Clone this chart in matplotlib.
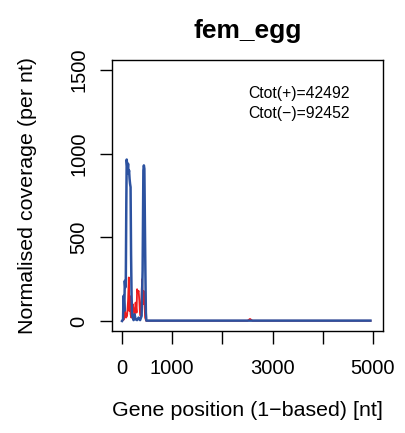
import matplotlib
matplotlib.use('Agg')
import matplotlib.pyplot as plt

plt.rcParams['font.family'] = ['Liberation Sans', 'DejaVu Sans']

title = 'fem_egg'
ctot_plus = 42492
ctot_minus = 92452

# coverage of the minus strand (blue) and plus strand (red)
minus_pos = [0, 20, 30, 45, 55, 65, 75, 85, 93, 100, 110, 120, 130, 140, 150, 160, 170,
             180, 190, 200, 215, 230, 250, 270, 300, 330, 360, 390, 410, 425, 435, 445,
             455, 465, 475, 485, 1000, 2000, 3000, 4000, 4950]
minus_cov = [0, 10, 150, 60, 240, 200, 240, 700, 965, 940, 900, 940, 880, 900, 850, 820, 800,
             400, 150, 30, 20, 5, 40, 10, 5, 20, 5, 30, 300, 900, 930, 910,
             600, 300, 50, 2, 2, 2, 2, 2, 2]

plus_pos = [0, 40, 60, 80, 100, 120, 135, 145, 155, 170, 185, 200, 215, 230, 250, 270, 290,
            300, 315, 330, 345, 355, 370, 385, 400, 415, 430, 445, 460, 480, 1500, 2500,
            2550, 2600, 3500, 4950]
plus_cov = [0, 10, 60, 20, 30, 120, 260, 60, 150, 40, 20, 80, 100, 70, 30, 110, 50,
            190, 170, 180, 120, 60, 30, 120, 250, 100, 180, 120, 20, 1, 1, 1,
            12, 1, 1, 1]

x_ticks = [0, 1000, 2000, 3000, 4000, 5000]
x_labels = ['0', '1000', '', '3000', '', '5000']
y_ticks = [0, 500, 1000, 1500]

fig = plt.figure(figsize=(4.06, 4.33), dpi=100)
ax = fig.add_axes([112 / 406, 1 - 331 / 433, 271 / 406, 271 / 433])

ax.plot(plus_pos, plus_cov, color='#ee1c1c', lw=1.3)
ax.plot(minus_pos, minus_cov, color='#2c52a0', lw=1.8)

ax.set_xlim(-200, 5200)
ax.set_ylim(-60, 1560)
ax.set_xticks(x_ticks)
ax.set_xticklabels(x_labels)
ax.set_yticks(y_ticks)
ax.set_yticklabels([str(v) for v in y_ticks], rotation=90, va='center')
ax.tick_params(direction='out', length=9, width=1.0, labelsize=14.5)
ax.tick_params(axis='x', pad=11)
ax.tick_params(axis='y', pad=8)
for s in ax.spines.values():
    s.set_linewidth(1.0)

ax.set_xlabel('Gene position (1\u2212based) [nt]', fontsize=15.4)
ax.xaxis.set_label_coords(0.5, -0.258)
ax.set_ylabel('Normalised coverage (per nt)', fontsize=15.4)
ax.yaxis.set_label_coords(-0.277, 0.5)
ax.text(0.5, 1.081, title, transform=ax.transAxes, ha='center', va='baseline',
        fontsize=19, fontweight='bold')

ax.text(0.502, 0.861, 'Ctot(+)=%d' % ctot_plus, transform=ax.transAxes,
        ha='left', va='baseline', fontsize=11.3)
ax.text(0.502, 0.787, 'Ctot(\u2212)=%d' % ctot_minus, transform=ax.transAxes,
        ha='left', va='baseline', fontsize=11.3)

fig.savefig('out.png', dpi=100)
